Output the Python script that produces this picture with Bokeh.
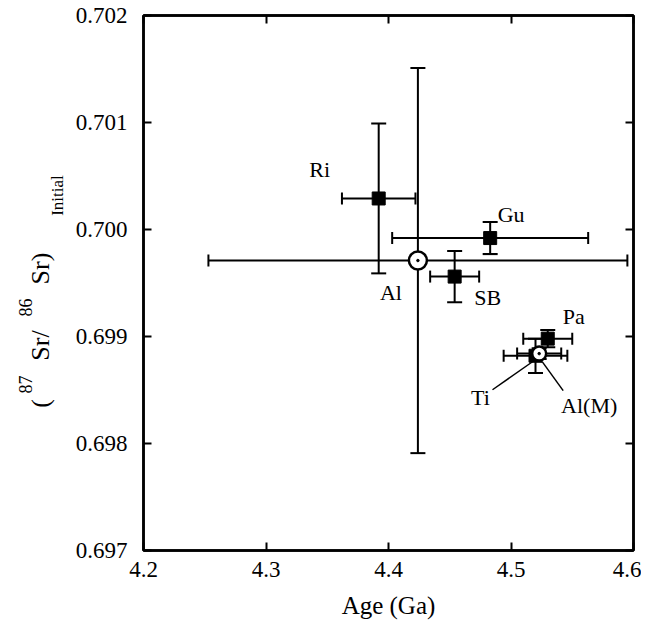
import math
from bokeh.plotting import figure
from bokeh.layouts import row
from bokeh.models import (ColumnDataSource, Whisker, TeeHead, LinearAxis,
                          FixedTicker, Range1d)
from bokeh.core.properties import value
from bokeh.embed import file_html
from bokeh.resources import INLINE

# ---------------- data ----------------
names = ["Ri", "Gu", "Al", "SB", "Pa", "Ti", "Al(M)"]
age = [4.392, 4.483, 4.424, 4.454, 4.530, 4.520, 4.523]
age_err = [0.030, 0.080, 0.171, 0.020, 0.020, 0.026, 0.018]
sr = [0.70029, 0.69992, 0.69971, 0.69956, 0.69898, 0.69882, 0.69884]
sr_err = [0.00070, 0.00015, 0.00180, 0.00024, 0.00008, 0.00016, 0.00005]
kind = ["square", "square", "circle", "square", "square", "square", "circle"]

x_ticks = [4.2, 4.3, 4.4, 4.5, 4.6]
x_tick_labels = ["4.2", "4.3", "4.4", "4.5", "4.6"]
y_ticks = [0.697, 0.698, 0.699, 0.700, 0.701, 0.702]
y_tick_labels = ["0.697", "0.698", "0.699", "0.700", "0.701", "0.702"]
x_title = "Age (Ga)"
y_title_parts = ["(", "87", "Sr/", "86", "Sr)", "Initial"]

# ---------------- style ----------------
FONT = "Liberation Serif"
FW, FH = 490, 535
TOP, BOT = 15, 70
TITLE_W = 72
XR = (4.2, 4.6)
YR = (0.697, 0.702)
lab_dx = [-59, 21, -27, 33, 26, -55, 50]
lab_dy = [-29, -24, 32, 21, -22, 42, 52]

p = figure(frame_width=FW, frame_height=FH, output_backend="svg", toolbar_location=None,
           x_range=Range1d(*XR), y_range=Range1d(*YR),
           min_border_left=142 - TITLE_W, min_border_right=8,
           min_border_top=TOP, min_border_bottom=BOT)
p.background_fill_color = "white"
p.border_fill_color = "white"
p.grid.visible = False
p.outline_line_color = "black"
p.outline_line_width = 2.5

def style_axis(ax, labels=True):
    ax.axis_line_width = 2.5
    ax.axis_line_color = "black"
    ax.major_tick_in = 8
    ax.major_tick_out = 0
    ax.major_tick_line_width = 2
    ax.minor_tick_line_color = None
    ax.major_label_text_font = FONT
    if labels:
        ax.major_label_text_color = "black"
        ax.major_label_text_font_size = "23px"
    else:
        ax.major_label_text_color = None
        ax.major_label_text_font_size = "1px"
        ax.major_label_standoff = 0

xa = p.xaxis[0]
ya = p.yaxis[0]
xa.ticker = FixedTicker(ticks=x_ticks)
ya.ticker = FixedTicker(ticks=y_ticks)
xa.major_label_overrides = {t: l for t, l in zip(x_ticks, x_tick_labels)}
ya.major_label_overrides = {t: l for t, l in zip(y_ticks, y_tick_labels)}
style_axis(xa)
style_axis(ya)
xa.major_label_standoff = 11
ya.major_label_standoff = 16
xa.axis_label = x_title
xa.axis_label_text_font = FONT
xa.axis_label_text_font_size = "25px"
xa.axis_label_text_font_style = "normal"
xa.axis_label_text_color = "black"
xa.axis_label_standoff = 12

top = LinearAxis(ticker=FixedTicker(ticks=x_ticks))
right = LinearAxis(ticker=FixedTicker(ticks=y_ticks))
style_axis(top, False)
style_axis(right, False)
p.add_layout(top, "above")
p.add_layout(right, "right")

# ---------------- error bars ----------------
src = ColumnDataSource(dict(
    age=age, sr=sr,
    age_lo=[a - e for a, e in zip(age, age_err)], age_hi=[a + e for a, e in zip(age, age_err)],
    sr_lo=[s - e for s, e in zip(sr, sr_err)], sr_hi=[s + e for s, e in zip(sr, sr_err)],
    name=names, dx=lab_dx, dy=lab_dy,
))

def tee(sz):
    return TeeHead(size=sz, line_width=2, line_color="black")

p.add_layout(Whisker(source=src, base="age", lower="sr_lo", upper="sr_hi", dimension="height",
                     line_width=2, line_color="black", upper_head=tee(15), lower_head=tee(15),
                     level="glyph"))
p.add_layout(Whisker(source=src, base="sr", lower="age_lo", upper="age_hi", dimension="width",
                     line_width=2, line_color="black", upper_head=tee(12), lower_head=tee(12),
                     level="glyph"))

# ---------------- markers ----------------
sq = [i for i, k in enumerate(kind) if k == "square"]
ci = [i for i, k in enumerate(kind) if k == "circle"]
circ_size = [18 if names[i] == "Al" else 14 for i in ci]
p.scatter([age[i] for i in sq], [sr[i] for i in sq], marker="square", size=13,
          fill_color="black", line_color="black", level="overlay")
p.scatter([age[i] for i in ci], [sr[i] for i in ci], marker="circle", size=circ_size,
          fill_color="white", line_color="black", line_width=2.5, level="overlay")
p.scatter([age[i] for i in ci], [sr[i] for i in ci], marker="circle", size=2.5,
          fill_color="black", line_color="black", level="overlay")

# ---------------- point labels ----------------
p.text(x="age", y="sr", text="name", source=src, x_offset="dx", y_offset="dy",
       text_font=value(FONT), text_font_size="22px", text_color="black",
       text_align="center", text_baseline="middle")

# leader lines for Ti and Al(M): pixel offsets converted through the scales
sx = (XR[1] - XR[0]) / FW
sy = (YR[1] - YR[0]) / FH
leaders = {"Ti": ((-3, 6), (-43, 34)), "Al(M)": ((3, 8), (24, 37))}
x0s, y0s, x1s, y1s = [], [], [], []
for nm, ((a0, b0), (a1, b1)) in leaders.items():
    i = names.index(nm)
    x0s.append(age[i] + a0 * sx); y0s.append(sr[i] - b0 * sy)
    x1s.append(age[i] + a1 * sx); y1s.append(sr[i] - b1 * sy)
p.segment(x0s, y0s, x1s, y1s, line_color="black", line_width=1.5)

# ---------------- y-axis title panel (rotated pieces) ----------------
# its frame is aligned with the main frame; y runs in page pixels (top=TOP, bottom=TOP+FH)
t = figure(width=TITLE_W, frame_height=FH, output_backend="svg", toolbar_location=None,
           x_range=Range1d(0, TITLE_W), y_range=Range1d(TOP + FH, TOP),
           min_border_left=0, min_border_right=0, min_border_top=TOP, min_border_bottom=BOT,
           x_axis_type=None, y_axis_type=None)
t.outline_line_color = None
t.grid.visible = False
t.background_fill_color = "white"
t.border_fill_color = "white"
piece_px = [40, 25, 40, 25, 40, 57]
piece_py = [403, 384, 345, 307, 268, 195]
piece_fs = ["26px", "18px", "26px", "18px", "26px", "17px"]
t.text(x=piece_px, y=piece_py, text=y_title_parts,
       angle=math.pi / 2, text_font=value(FONT), text_font_size=piece_fs,
       text_align="center", text_baseline="middle", text_color="black")

layout = row(t, p, spacing=0)
open("out.html", "w").write(file_html(layout, INLINE))
